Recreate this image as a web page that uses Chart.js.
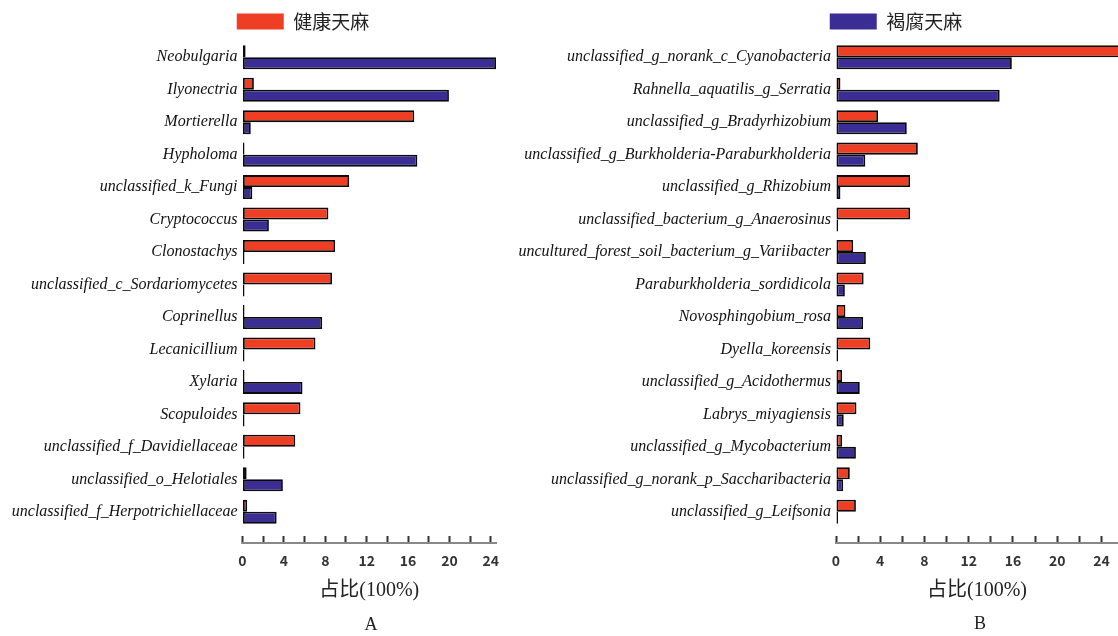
<!DOCTYPE html>
<html>
<head>
<meta charset="utf-8">
<script src="https://cdn.jsdelivr.net/npm/chart.js@4.4.1/dist/chart.umd.min.js"></script>
<style>
  html, body { margin: 0; background: #fff; width: 1118px; height: 636px; overflow: hidden; }
  canvas { position: absolute; top: 0; }
  .panel-label { position: absolute; font: 18px "Liberation Serif", serif; color: #222; transform: translate(-50%, -50%); }
</style>
</head>
<body>
<canvas id="chart-fungi" width="602" height="636" style="left:0"></canvas>
<canvas id="chart-bacteria" width="808" height="636" style="left:480px"></canvas>
<div class="panel-label" style="left:371px; top:624px">A</div>
<div class="panel-label" style="left:980px; top:623px">B</div>

<script>
  const seriesNames = ["健康天麻", "褐腐天麻"];

  // A: fungi
  const fungiLabels = [
    "Neobulgaria", "Ilyonectria", "Mortierella", "Hypholoma", "unclassified_k_Fungi",
    "Cryptococcus", "Clonostachys", "unclassified_c_Sordariomycetes", "Coprinellus", "Lecanicillium",
    "Xylaria", "Scopuloides", "unclassified_f_Davidiellaceae", "unclassified_o_Helotiales",
    "unclassified_f_Herpotrichiellaceae"
  ];
  const fungiHealthy = [0.3, 1.1, 16.6, 0, 10.3, 8.3, 8.95, 8.65, 0, 7.05, 0, 5.6, 5.1, 0.4, 0.45];
  const fungiRotten = [24.5, 19.95, 0.8, 16.9, 0.95, 2.55, 0, 0, 7.7, 0, 5.8, 0, 0, 3.9, 3.3];

  // B: bacteria
  const bacteriaLabels = [
    "unclassified_g_norank_c_Cyanobacteria", "Rahnella_aquatilis_g_Serratia", "unclassified_g_Bradyrhizobium",
    "unclassified_g_Burkholderia-Paraburkholderia", "unclassified_g_Rhizobium", "unclassified_bacterium_g_Anaerosinus",
    "uncultured_forest_soil_bacterium_g_Variibacter", "Paraburkholderia_sordidicola", "Novosphingobium_rosa",
    "Dyella_koreensis", "unclassified_g_Acidothermus", "Labrys_miyagiensis", "unclassified_g_Mycobacterium",
    "unclassified_g_norank_p_Saccharibacteria", "unclassified_g_Leifsonia"
  ];
  const bacteriaHealthy = [26, 0.4, 3.8, 7.4, 6.7, 6.7, 1.55, 2.5, 0.85, 3.1, 0.55, 1.85, 0.55, 1.25, 1.8];
  const bacteriaRotten = [15.9, 14.8, 6.4, 2.65, 0.4, 0, 2.7, 0.8, 2.45, 0, 2.15, 0.7, 1.8, 0.65, 0];

  const RED = "#ee3f24";
  const BLUE = "#3a2e94";
  const AXIS_AT = 14.95; // x axis sits a little below the last category

  function buildChart(id, labels, healthy, rotten, cfg) {
    return new Chart(document.getElementById(id), {
      type: "bar",
      data: {
        labels: labels,
        datasets: [
          { label: seriesNames[0], data: healthy, backgroundColor: RED },
          { label: seriesNames[1], data: rotten, backgroundColor: BLUE }
        ]
      },
      options: {
        indexAxis: "y",
        responsive: false,
        animation: false,
        layout: { padding: { left: cfg.padLeft, right: 0, top: 1, bottom: 108 } },
        datasets: {
          bar: {
            borderColor: "#0a0a0a",
            borderWidth: 1.8,
            borderSkipped: false,
            categoryPercentage: 0.74,
            barPercentage: 1,
            minBarLength: 2
          }
        },
        plugins: {
          tooltip: { enabled: false },
          legend: {
            labels: {
              boxWidth: 47,
              boxHeight: 16,
              padding: 11,
              color: "#222",
              font: { family: "'Noto Sans CJK SC'", size: 19 },
              filter: item => item.datasetIndex === cfg.legendIndex,
              generateLabels: chart =>
                Chart.defaults.plugins.legend.labels.generateLabels(chart).map(l => ({ ...l, lineWidth: 0 }))
            }
          }
        },
        scales: {
          y: {
            afterFit: scale => { scale.width = cfg.yWidth; },
            grid: { display: false, drawTicks: false },
            border: { display: false },
            ticks: {
              autoSkip: false,
              padding: 5,
              color: "#111",
              font: { family: "'Liberation Serif'", style: "italic", size: 16 }
            }
          },
          // empty right-hand strip so the legend centres where the original has it
          spacer: {
            type: "category",
            axis: "y",
            position: "right",
            afterFit: scale => { scale.width = cfg.spacer; },
            grid: { display: false, drawTicks: false },
            border: { display: false },
            ticks: { display: false }
          },
          x: {
            position: { y: AXIS_AT },
            min: 0,
            max: cfg.max,
            grid: { drawOnChartArea: false, tickLength: -8, tickWidth: 2, color: "#333" },
            border: { color: "#888", width: 2 },
            ticks: {
              stepSize: 2,
              includeBounds: false,
              autoSkip: false,
              maxRotation: 0,
              minRotation: 0,
              padding: 18,
              color: "#333",
              font: { family: "'Noto Sans CJK SC'", size: 14, weight: "bold" },
              callback: v => (v % 4 === 0 ? v : "")
            },
            title: {
              display: true,
              text: "占比(100%)",
              color: "#222",
              font: { family: "'Liberation Serif', 'Noto Sans CJK SC'", size: 20 },
              padding: { top: -9, bottom: 0 }
            }
          }
        }
      }
    });
  }

  buildChart("chart-fungi", fungiLabels, fungiHealthy, fungiRotten,
    { padLeft: 4, yWidth: 238.5, spacer: 106, max: 24.5, legendIndex: 0 });
  buildChart("chart-bacteria", bacteriaLabels, bacteriaHealthy, bacteriaRotten,
    { padLeft: 24, yWidth: 332, spacer: 170, max: 25.5, legendIndex: 1 });
</script>
</body>
</html>
